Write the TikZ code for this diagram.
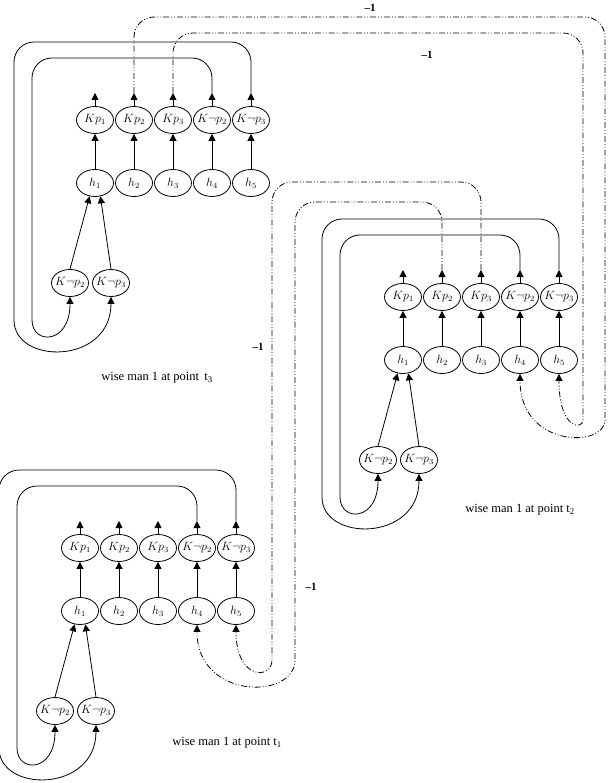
\documentclass[tikz,border=0pt]{standalone}
\usepackage{fontspec}
\setmainfont{Liberation Serif}
\usetikzlibrary{shapes.geometric,arrows.meta}
\begin{document}
\begin{tikzpicture}[x=1pt,y=-1pt,line width=0.8pt,
  nd/.style={draw,ellipse,minimum width=37pt,minimum height=27pt,inner xsep=-4.5pt,inner ysep=1pt,font=\fontsize{11.5}{13}\selectfont},
  ar/.style={-{Triangle[length=7pt,width=7pt]}},
  lp/.style={ar,rounded corners=20pt},
  dd/.style={ar,rounded corners=20pt,dash pattern=on 6pt off 2pt on 0.9pt off 2pt on 0.9pt off 2pt},
  lab/.style={font=\fontsize{12.5}{14}\selectfont},
  m1/.style={font=\bfseries\fontsize{11}{13}\selectfont}]
\useasboundingbox (0,0) rectangle (610,783);
\foreach \sx/\sy/\t in {0/0/3,308/177/2,-15/428/1}{
\begin{scope}[shift={(\sx,\sy)}]
  \node[nd] (kp1\t) at (95,120) {$Kp_1$};
  \node[nd] (kp2\t) at (134,120) {$Kp_2$};
  \node[nd] (kp3\t) at (173,120) {$Kp_3$};
  \node[nd] (kn2\t) at (212,120) {$K\neg p_2$};
  \node[nd] (kn3\t) at (251,120) {$K\neg p_3$};
  \foreach \i/\x in {1/95,2/134,3/173,4/212,5/251}{
    \node[nd] (h\i\t) at (\x,183) {$h_{\i}$};}
  \node[nd] (bn2\t) at (70,283) {$K\neg p_2$};
  \node[nd] (bn3\t) at (111,283) {$K\neg p_3$};
  \foreach \a/\b/\x in {h1/kp1/95,h2/kp2/134,h3/kp3/173,h4/kn2/212,h5/kn3/251}{
    \draw[ar] (\a\t) -- (\b\t);
    \coordinate (s\b\t) at (\x,93);
    \draw[ar] (\b\t.north) -- (s\b\t);}
  \draw[ar] (bn2\t.north) -- (h1\t.-112);
  \draw[ar] (bn3\t.north) -- (h1\t.-68);
  \draw[lp] (skn3\t) -- (251,42) -- (14,42) -- (14,300) .. controls (14,365) and (111,365) .. (bn3\t.south);
  \draw[lp] (skn2\t) -- (212,58) -- (32,58) -- (32,300) .. controls (32,345) and (70,345) .. (bn2\t.south);
\end{scope}}
\node[lab] (l3) at (157,378) {wise man 1 at point\, t\textsubscript{3}};
\node[lab] (l2) at (520,510) {wise man 1 at point t\textsubscript{2}};
\node[lab] (l1) at (227,743) {wise man 1 at point t\textsubscript{1}};
% t3 -> t2
\draw[dd] (skp23) -- (134,17) -- (605,17) -- (605,400) .. controls (605,448) and (520,448) .. (h42.south);
\draw[dd] (skp33) -- (173,33) -- (583,33) -- (583,400) .. controls (583,430) and (559,430) .. (h52.south);
% t2 -> t1
\draw[dd] (skp32) -- (481,182) -- (272,182) -- (272,640) .. controls (272,680) and (236,680) .. (h51.south);
\draw[dd] (skp22) -- (442,202) -- (295,202) -- (295,640) .. controls (295,700) and (197,700) .. (h41.south);
\node[m1] (a) at (370,8) {\textendash1};
\node[m1] (b) at (427,55) {\textendash1};
\node[m1] (c) at (258,347) {\textendash1};
\node[m1] (d) at (311,587) {\textendash1};
\end{tikzpicture}
\end{document}
